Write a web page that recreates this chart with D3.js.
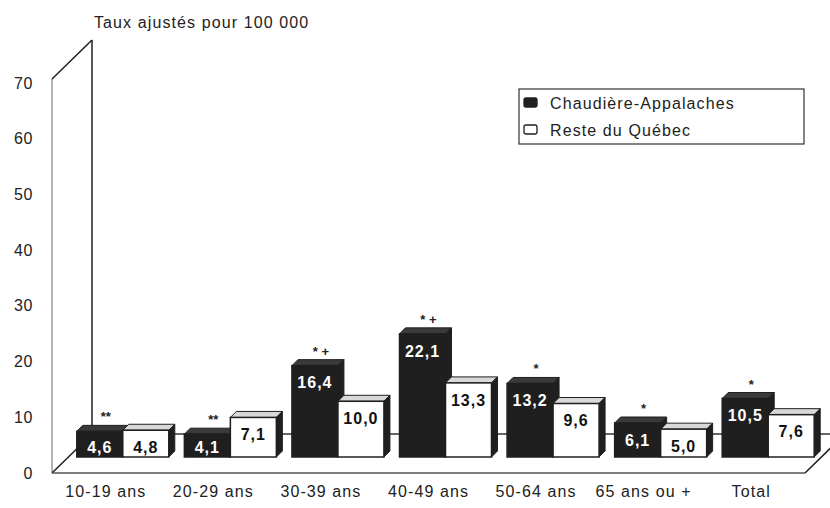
<!DOCTYPE html>
<html lang="fr">
<head>
<meta charset="utf-8">
<script src="https://cdn.jsdelivr.net/npm/d3@7"></script>
<style>
  html, body { margin: 0; padding: 0; background: #fff; }
  svg { display: block; }
  text { font-family: "Liberation Sans", Arial, sans-serif; }
</style>
</head>
<body>
<svg id="chart" width="830" height="508"></svg>
<script>
// Taux ajustés pour 100 000, par groupe d'âge
const categories = ["10-19 ans", "20-29 ans", "30-39 ans", "40-49 ans", "50-64 ans", "65 ans ou +", "Total"];
const chaudiere = [4.6, 4.1, 16.4, 22.1, 13.2, 6.1, 10.5];
const resteQuebec = [4.8, 7.1, 10.0, 13.3, 9.6, 5.0, 7.6];
const significance = ["**", "**", "* +", "* +", "*", "*", "*"];
const yTicks = [0, 10, 20, 30, 40, 50, 60, 70];
const seriesNames = ["Chaudière-Appalaches", "Reste du Québec"];

const svg = d3.select("#chart");

// Front plane of the 3D box
const x = d3.scaleBand().domain(categories).range([52, 805]);
const y = d3.scaleLinear().domain([0, 70]).range([473, 83]);

// Depth of the floor / wall, and where the bars sit inside it
const DX = 40, DY = -39;
const BX = 17, BY = -16;
const barW = 46, bd = 6;

const ink = "#1f1f1f";
const textInk = "#222";
const spacing = "1.1px";
const fs = 16;

// Left wall
const x0 = x.range()[0], x1 = x.range()[1];
const yb = y(0), yt = y(70) - 4;
svg.append("line").attr("x1", x0).attr("y1", yb).attr("x2", x0).attr("y2", yt)
  .attr("stroke", "#999").attr("stroke-width", 1.5);
svg.append("line").attr("x1", x0 + DX).attr("y1", yb + DY).attr("x2", x0 + DX).attr("y2", yt + DY)
  .attr("stroke", ink).attr("stroke-width", 1.5);
svg.append("line").attr("x1", x0).attr("y1", yt).attr("x2", x0 + DX).attr("y2", yt + DY)
  .attr("stroke", ink).attr("stroke-width", 1.5);

// Floor
svg.append("line").attr("x1", x0).attr("y1", yb).attr("x2", x0 + DX).attr("y2", yb + DY)
  .attr("stroke", ink).attr("stroke-width", 1.5);
svg.append("line").attr("x1", x0 + DX).attr("y1", yb + DY).attr("x2", x1 + DX).attr("y2", yb + DY)
  .attr("stroke", "#333").attr("stroke-width", 1.3);
svg.append("line").attr("x1", x0).attr("y1", yb).attr("x2", x1).attr("y2", yb)
  .attr("stroke", "#555").attr("stroke-width", 1.5);
svg.append("line").attr("x1", x1).attr("y1", yb).attr("x2", x1 + DX).attr("y2", yb + DY)
  .attr("stroke", ink).attr("stroke-width", 1.5);

// Y axis
const yAxis = svg.append("g").attr("transform", `translate(37,0)`)
  .call(d3.axisLeft(y).tickValues(yTicks).tickFormat(d3.format("d")).tickSize(0).tickPadding(4));
yAxis.select(".domain").remove();
yAxis.selectAll("text").attr("font-size", fs).attr("font-family", null)
  .style("letter-spacing", "0.6px").style("fill", textInk);

// X axis
const xAxis = svg.append("g").attr("transform", `translate(0,${yb})`)
  .call(d3.axisBottom(x).tickSize(0).tickPadding(13));
xAxis.select(".domain").remove();
xAxis.selectAll("text").attr("font-size", fs).attr("font-family", null)
  .style("letter-spacing", spacing).style("fill", textInk);

// Title
svg.append("text").attr("x", 94).attr("y", 28).attr("font-size", fs)
  .style("letter-spacing", spacing).style("fill", textInk).text("Taux ajustés pour 100 000");

// Bars
const base = y(0) + BY;
function bar(g, left, value, dark) {
  const top = y(value) + BY;
  const right = left + barW;
  // top face
  g.append("polygon")
    .attr("points", [[left, top], [right, top], [right + bd, top - bd], [left + bd, top - bd]].map(p => p.join(",")).join(" "))
    .attr("fill", dark ? "#3a3a3a" : "#d8d8d8").attr("stroke", ink).attr("stroke-width", 1);
  // side face
  g.append("polygon")
    .attr("points", [[right, top], [right + bd, top - bd], [right + bd, base - bd], [right, base]].map(p => p.join(",")).join(" "))
    .attr("fill", ink).attr("stroke", ink).attr("stroke-width", 1);
  // front face
  g.append("rect").attr("x", left).attr("y", top).attr("width", barW).attr("height", base - top)
    .attr("fill", dark ? ink : "#fff").attr("stroke", ink).attr("stroke-width", 1.5);
  // value
  const ly = Math.min(top + 17, base - 10);
  g.append("text").attr("x", left + barW / 2).attr("y", ly).attr("dy", "0.36em")
    .attr("text-anchor", "middle").attr("font-size", 16).attr("font-weight", "bold")
    .style("letter-spacing", "1px")
    .style("fill", dark ? "#fff" : "#111")
    .text(d3.format(".1f")(value).replace(".", ","));
  return top;
}

categories.forEach((c, i) => {
  const g = svg.append("g");
  const cx = x(c) + x.bandwidth() / 2 + BX;
  const topDark = bar(g, cx - barW, chaudiere[i], true);
  bar(g, cx, resteQuebec[i], false);
  g.append("text").attr("x", cx - barW / 2 + 6).attr("y", topDark - bd - 4)
    .attr("text-anchor", "middle").attr("font-size", 13).attr("font-weight", "bold")
    .style("fill", textInk).text(significance[i]);
});

// Legend
const lg = svg.append("g");
lg.append("rect").attr("x", 519).attr("y", 89).attr("width", 285).attr("height", 55)
  .attr("fill", "#fff").attr("stroke", "#333").attr("stroke-width", 1.2);
seriesNames.forEach((name, i) => {
  const yy = 103 + i * 27;
  lg.append("rect").attr("x", 524).attr("y", yy - 5).attr("width", 13).attr("height", 9)
    .attr("rx", 2).attr("fill", i === 0 ? ink : "#fff").attr("stroke", ink).attr("stroke-width", 1.3);
  lg.append("text").attr("x", 550).attr("y", yy).attr("dy", "0.36em").attr("font-size", fs)
    .style("letter-spacing", spacing).style("fill", textInk).text(name);
});
</script>
</body>
</html>
